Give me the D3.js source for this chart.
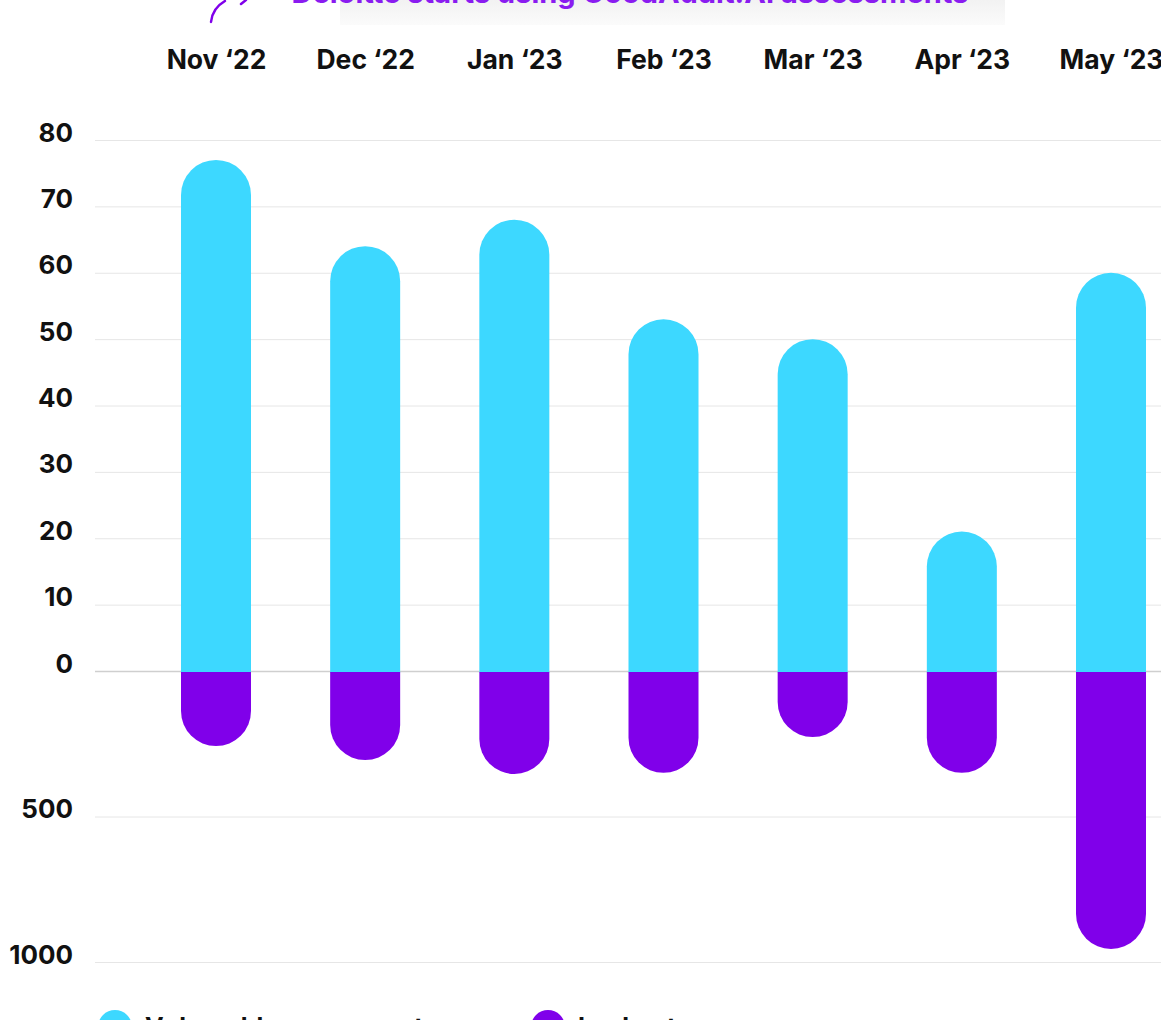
<!DOCTYPE html>
<html><head><meta charset="utf-8">
<script src="https://cdn.jsdelivr.net/npm/d3@7"></script>
<style>
html,body{margin:0;padding:0;background:#fff;overflow:hidden;}
svg{display:block;font-family:Inter,"Open Sans",sans-serif;}
</style></head>
<body>
<svg id="chart" width="1161" height="1020"></svg>
<script>
const months = ["Nov ‘22","Dec ‘22","Jan ‘23","Feb ‘23","Mar ‘23","Apr ‘23","May ‘23"];
const upperValues = [77, 64, 68, 53, 50, 21, 60];
const lowerValues = [258, 306, 354, 350, 227, 350, 955];
const upperTicks = [0,10,20,30,40,50,60,70,80];
const lowerTicks = [500,1000];
const titleText = "Deloitte starts using GoodAudit.AI assessments";
const legendLabels = ["Vulnerable components", "Lockouts"];

const cyan = "#3DD8FF", purple = "#8000EA";
const svg = d3.select("#chart");

const x = d3.scalePoint().domain(months).range([216,1111]);
const yTop = d3.scaleLinear().domain([0,80]).range([671,140]);
const yBot = d3.scaleLinear().domain([0,1000]).range([671,962]);
const barW = 70, r = barW/2;

// faint title backdrop
const defs = svg.append("defs");
const g1 = defs.append("linearGradient").attr("id","bk").attr("x1",0).attr("x2",0).attr("y1",0).attr("y2",1);
g1.append("stop").attr("offset","0%").attr("stop-color","#f2f2f2");
g1.append("stop").attr("offset","100%").attr("stop-color","#fbfbfb");
svg.append("rect").attr("x",340).attr("y",0).attr("width",665).attr("height",25).attr("fill","url(#bk)");

// title (cropped at top)
svg.append("text").attr("x",630).attr("y",3).attr("text-anchor","middle")
  .attr("font-size",29).attr("font-weight",700).attr("fill","#8a1cf0").text(titleText);
svg.append("path").attr("d","M211,22 C212,12 218,5 225,1").attr("fill","none").attr("stroke",purple).attr("stroke-width",2.5).attr("stroke-linecap","round");
svg.append("path").attr("d","M241,4 L246,0").attr("fill","none").attr("stroke",purple).attr("stroke-width",2.5).attr("stroke-linecap","round");

// month axis (top)
const xAxis = svg.append("g").attr("transform","translate(0,69)").call(d3.axisTop(x).tickSize(0).tickPadding(0));
xAxis.select(".domain").remove();
xAxis.selectAll("text").attr("font-size",26.5).attr("font-weight",700).attr("fill","#111").attr("font-family","Inter,sans-serif");

// y axes with gridlines
function styleAxis(g){
  g.select(".domain").remove();
  g.selectAll(".tick line").attr("x1",0).attr("x2",1161-95).attr("stroke","#e6e6e6").attr("stroke-width",1);
  g.selectAll(".tick text").attr("x",-22).attr("dy","0.35em").attr("font-size",26).attr("font-weight",700).attr("fill","#111").attr("font-family","Inter,sans-serif");
}
const ayTop = svg.append("g").attr("transform","translate(95,0)")
  .call(d3.axisLeft(yTop).tickValues(upperTicks).tickSize(0).tickFormat(d3.format("d")));
styleAxis(ayTop);
ayTop.selectAll(".tick text").attr("transform","translate(0,-8)");
ayTop.selectAll(".tick").filter(d=>d===0).select("line").attr("stroke","#cfcfcf").attr("stroke-width",1.5);
const ayBot = svg.append("g").attr("transform","translate(95,0)")
  .call(d3.axisLeft(yBot).tickValues(lowerTicks).tickSize(0).tickFormat(d3.format("d")));
styleAxis(ayBot);
ayBot.selectAll(".tick text").attr("transform","translate(0,-8)");

// bars
function topBar(cx, y0, y1){ // rounded top
  const l = cx - r, rr = cx + r;
  return `M${l},${y0} L${l},${y1+r} A${r},${r} 0 0 1 ${rr},${y1+r} L${rr},${y0} Z`;
}
function botBar(cx, y0, y1){ // rounded bottom
  const l = cx - r, rr = cx + r;
  return `M${l},${y0} L${l},${y1-r} A${r},${r} 0 0 0 ${rr},${y1-r} L${rr},${y0} Z`;
}
const bars = svg.append("g");
bars.selectAll("path.up").data(months).join("path").attr("class","up")
  .attr("d",(m,i)=>topBar(x(m), yTop(0)+1.5, yTop(upperValues[i]))).attr("fill",cyan);
bars.selectAll("path.dn").data(months).join("path").attr("class","dn")
  .attr("d",(m,i)=>botBar(x(m), yBot(0)+1, yBot(lowerValues[i]))).attr("fill",purple);

// legend (cropped at bottom)
const leg = svg.append("g");
[[115,cyan,legendLabels[0]],[548,purple,legendLabels[1]]].forEach(([cx,c,t])=>{
  leg.append("circle").attr("cx",cx).attr("cy",1027).attr("r",17).attr("fill",c);
  leg.append("text").attr("x",cx+30).attr("y",1036).attr("font-size",25).attr("font-weight",700).attr("fill","#111").text(t);
});
</script>
</body></html>
